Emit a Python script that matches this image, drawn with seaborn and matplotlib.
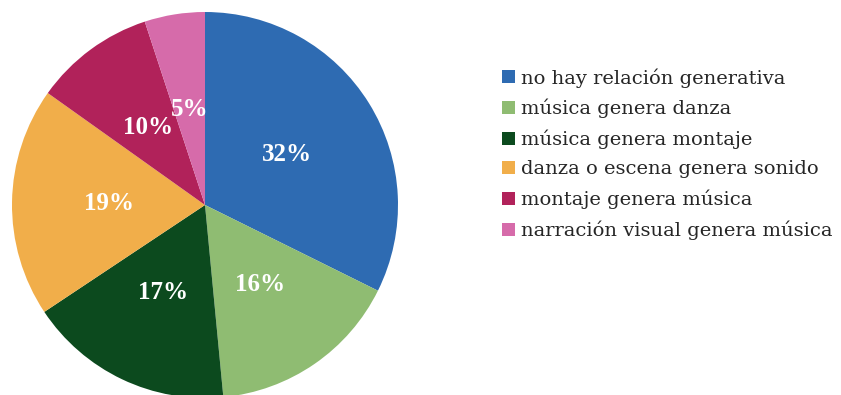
import matplotlib
matplotlib.use("Agg")
import matplotlib.pyplot as plt
import seaborn as sns
import numpy as np
from matplotlib.patches import Patch

categories = [
    "no hay relación generativa",
    "música genera danza",
    "música genera montaje",
    "danza o escena genera sonido",
    "montaje genera música",
    "narración visual genera música",
]
values = [32, 16, 17, 19, 10, 5]
colors = ["#2E6BB2", "#8FBC72", "#0C4A1E", "#F1AE4A", "#B1225A", "#D66BAA"]

sns.set_theme(style="white")
plt.rcParams["font.family"] = ["Liberation Serif", "DejaVu Serif"]
palette = sns.color_palette(colors)

fig = plt.figure(figsize=(8.41, 3.95), dpi=100)
cx, cy, r = 205, 205, 193
W, H = 841, 395
ax = fig.add_axes([(cx - r) / W, (H - cy - r) / H, 2 * r / W, 2 * r / H])
wedges, texts = ax.pie(
    values,
    colors=palette,
    startangle=90,
    counterclock=False,
    radius=1,
    wedgeprops=dict(linewidth=0),
)
for v, w in zip(values, wedges):
    mid = np.deg2rad((w.theta1 + w.theta2) / 2)
    ax.text(0.5 * np.cos(mid), 0.5 * np.sin(mid), f"{v}%",
            ha="center", va="center", color="white",
            fontsize=18, fontweight="bold")
ax.set_xlim(-1, 1)
ax.set_ylim(-1, 1)
ax.set_aspect("equal")
ax.axis("off")

handles = [Patch(facecolor=c, edgecolor="none") for c in palette]
fig.legend(
    handles, categories,
    loc="upper left", bbox_to_anchor=(502 / W, 1 - 68 / H),
    frameon=False, prop={"family": "DejaVu Serif", "size": 14},
    handlelength=0.65, handleheight=0.65, handletextpad=0.35,
    labelspacing=0.58, borderpad=0, borderaxespad=0,
)
fig.savefig("out.png", dpi=100, facecolor="white")
